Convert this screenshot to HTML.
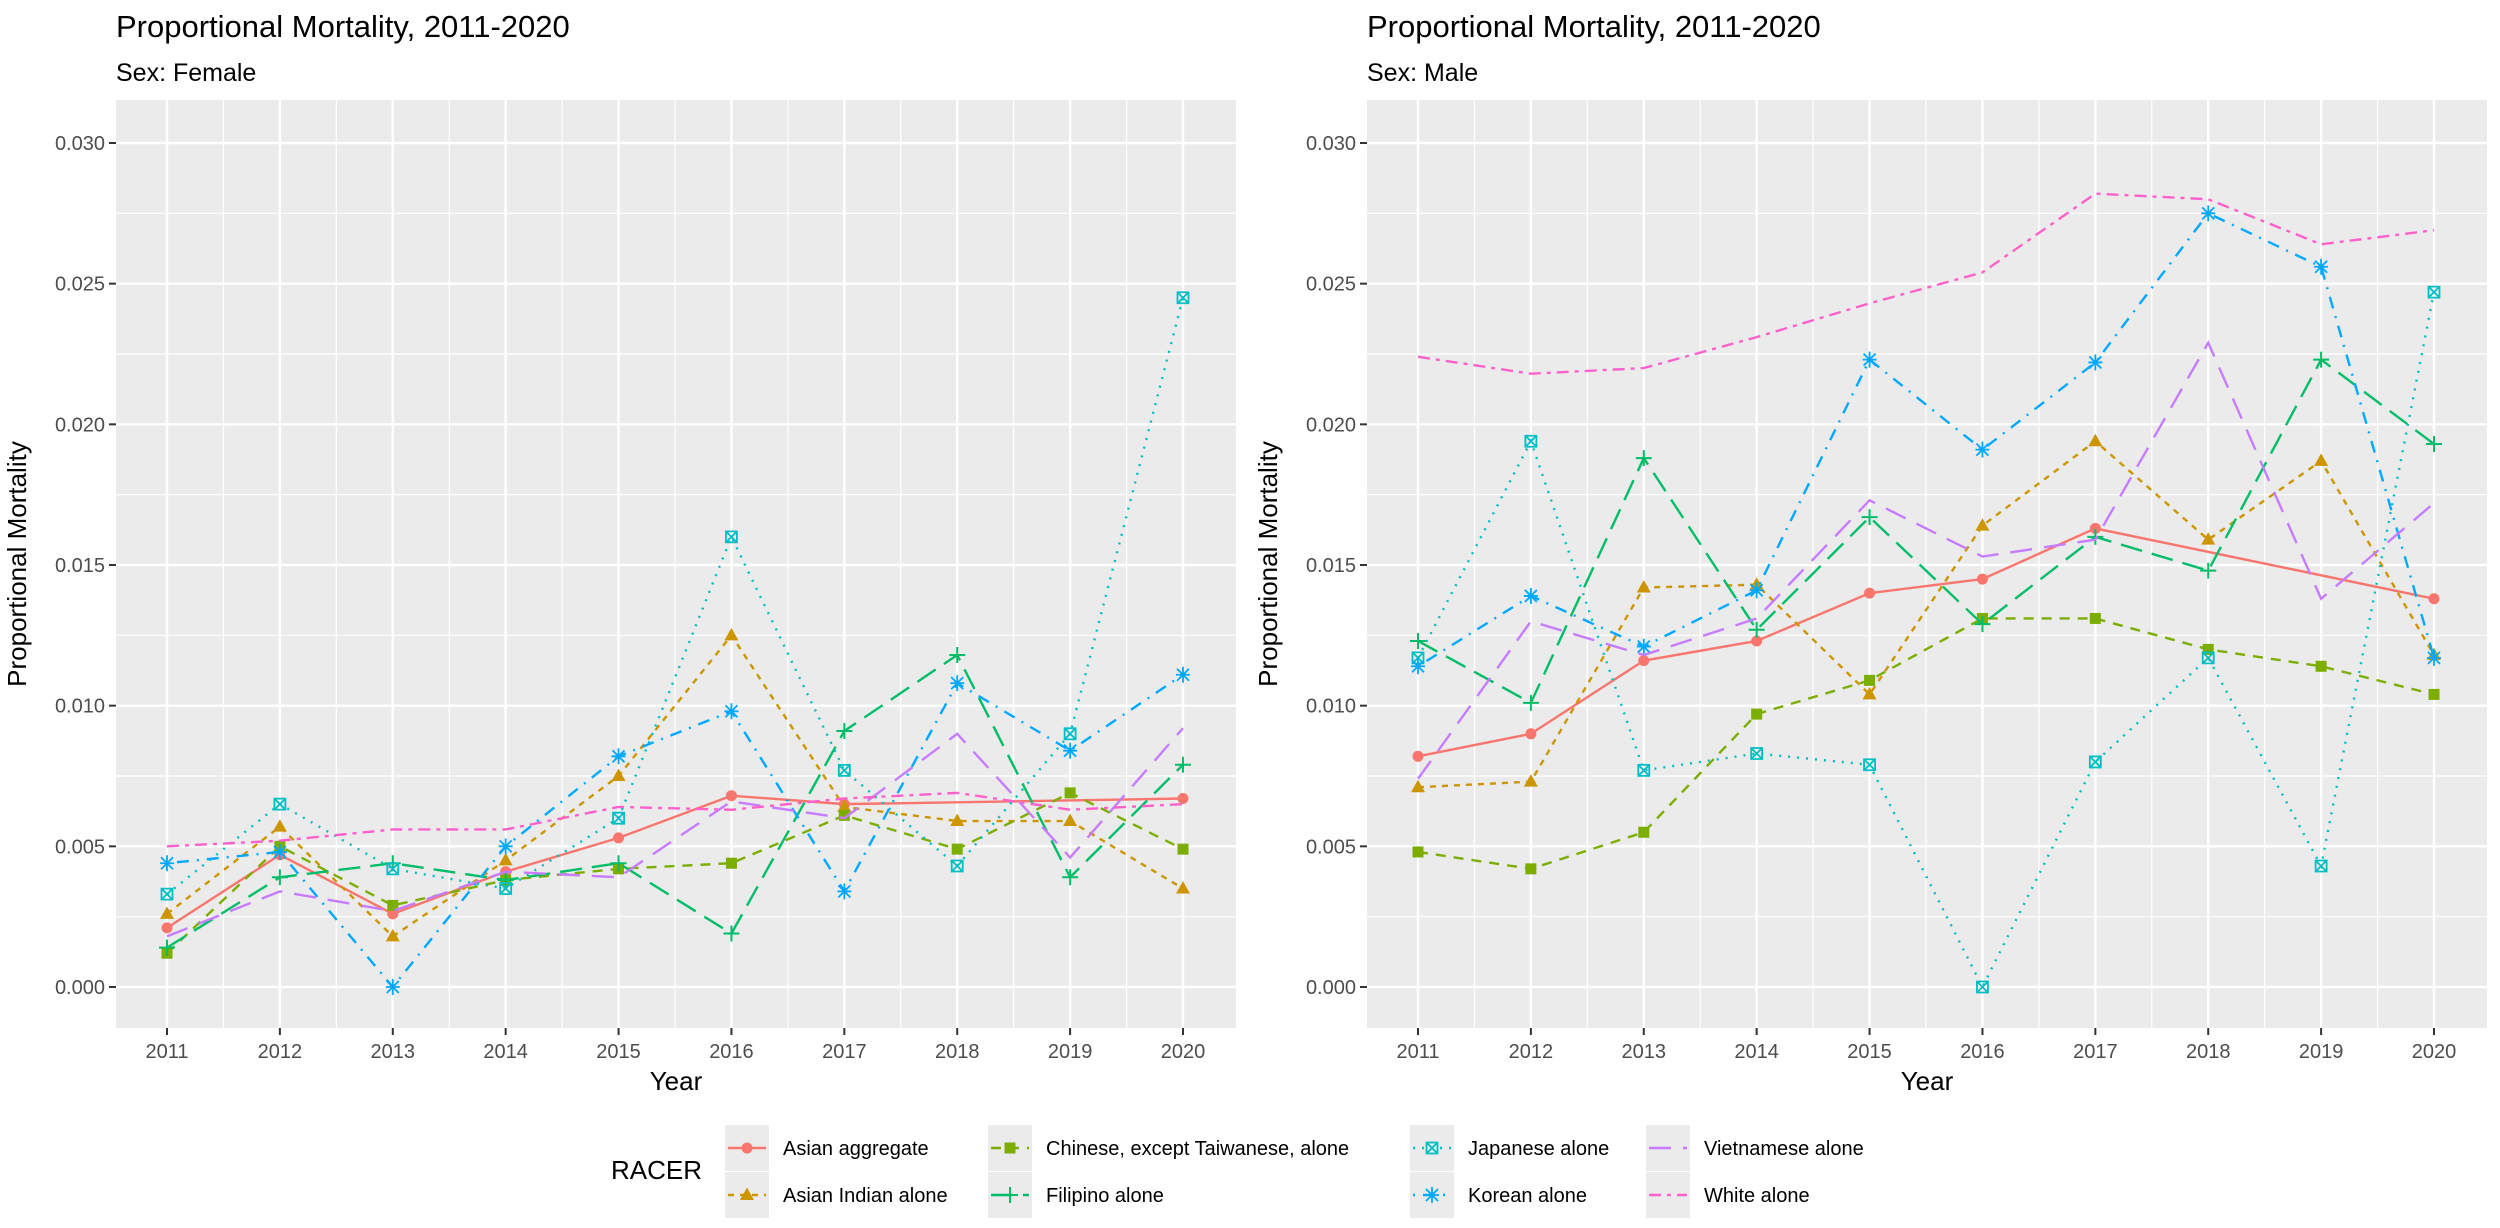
<!DOCTYPE html>
<html><head><meta charset="utf-8"><style>
html,body{margin:0;padding:0;background:#fff;}
svg{display:block;font-family:"Liberation Sans",Arial,sans-serif;}
</style></head><body>
<svg id="chart" width="2500" height="1228" viewBox="0 0 2500 1228" xmlns="http://www.w3.org/2000/svg"></svg>
<script>
const years = [2011,2012,2013,2014,2015,2016,2017,2018,2019,2020];
const yTicks = [0,0.005,0.010,0.015,0.020,0.025,0.030];
const yTickLabels = ["0.000","0.005","0.010","0.015","0.020","0.025","0.030"];
const seriesNames = ["Asian aggregate","Asian Indian alone","Chinese, except Taiwanese, alone","Filipino alone","Japanese alone","Korean alone","Vietnamese alone","White alone"];
const femaleAggregate = [0.0021,0.0047,0.0026,0.0041,0.0053,0.0068,0.0065,null,null,0.0067];
const femaleIndian = [0.0026,0.0057,0.0018,0.0045,0.0075,0.0125,0.0064,0.0059,0.0059,0.0035];
const femaleChinese = [0.0012,0.0050,0.0029,0.0038,0.0042,0.0044,0.0061,0.0049,0.0069,0.0049];
const femaleFilipino = [0.0014,0.0039,0.0044,0.0038,0.0044,0.0019,0.0091,0.0118,0.0039,0.0079];
const femaleJapanese = [0.0033,0.0065,0.0042,0.0035,0.0060,0.0160,0.0077,0.0043,0.0090,0.0245];
const femaleKorean = [0.0044,0.0048,0.0000,0.0050,0.0082,0.0098,0.0034,0.0108,0.0084,0.0111];
const femaleVietnamese = [0.0018,0.0034,0.0027,0.0041,0.0039,0.0066,0.0060,0.0090,0.0046,0.0092];
const femaleWhite = [0.0050,0.0052,0.0056,0.0056,0.0064,0.0063,0.0067,0.0069,0.0063,0.0065];
const maleAggregate = [0.0082,0.0090,0.0116,0.0123,0.0140,0.0145,0.0163,null,null,0.0138];
const maleIndian = [0.0071,0.0073,0.0142,0.0143,0.0104,0.0164,0.0194,0.0159,0.0187,0.0118];
const maleChinese = [0.0048,0.0042,0.0055,0.0097,0.0109,0.0131,0.0131,0.0120,0.0114,0.0104];
const maleFilipino = [0.0123,0.0101,0.0188,0.0127,0.0167,0.0129,0.0160,0.0148,0.0223,0.0193];
const maleJapanese = [0.0117,0.0194,0.0077,0.0083,0.0079,0.0000,0.0080,0.0117,0.0043,0.0247];
const maleKorean = [0.0114,0.0139,0.0121,0.0141,0.0223,0.0191,0.0222,0.0275,0.0256,0.0117];
const maleVietnamese = [0.0074,0.0130,0.0118,0.0131,0.0173,0.0153,0.0159,0.0229,0.0138,0.0172];
const maleWhite = [0.0224,0.0218,0.0220,0.0231,0.0243,0.0254,0.0282,0.0280,0.0264,0.0269];

const colors = ["#F8766D","#CD9600","#7CAE00","#00BE67","#00BFC4","#00A9FF","#C77CFF","#FF61CC"];
const dashes = ["", "6,6", "10,8", "22,10", "2,7", "2,8,12,8", "22,12", "12,6,4,6"];
const shapes = ["circle","triangle","square","plus","boxx","asterisk",null,null];
const slugs = ["asian-aggregate","asian-indian","chinese","filipino","japanese","korean","vietnamese","white"];

const NS = "http://www.w3.org/2000/svg";
const svg = document.getElementById('chart');
function mk(tag, attrs, parent){const e=document.createElementNS(NS,tag);for(const k in attrs)e.setAttribute(k,attrs[k]);(parent||svg).appendChild(e);return e;}

function marker(g, shape, x, y, c){
  let e;
  if(shape==="circle"){e=mk('circle',{cx:x,cy:y,r:5.5,fill:c},g);}
  else if(shape==="triangle"){e=mk('polygon',{points:`${x},${y-7.5} ${x+7},${y+5} ${x-7},${y+5}`,fill:c},g);}
  else if(shape==="square"){e=mk('rect',{x:x-5.5,y:y-5.5,width:11,height:11,fill:c},g);}
  else if(shape==="plus"){e=mk('path',{d:`M${x-8},${y}H${x+8}M${x},${y-8}V${y+8}`,stroke:c,'stroke-width':2,fill:'none'},g);}
  else if(shape==="boxx"){e=mk('path',{d:`M${x-5.5},${y-5.5}h11v11h-11zM${x-5.5},${y-5.5}L${x+5.5},${y+5.5}M${x+5.5},${y-5.5}L${x-5.5},${y+5.5}`,stroke:c,'stroke-width':1.8,fill:'none'},g);}
  else if(shape==="asterisk"){e=mk('path',{d:`M${x-7},${y}H${x+7}M${x},${y-8}V${y+8}M${x-6},${y-6}L${x+6},${y+6}M${x+6},${y-6}L${x-6},${y+6}`,stroke:c,'stroke-width':1.8,fill:'none'},g);}
  return e;
}

function panel(px0, subtitle, data, slug){
  const left=px0, right=px0+1120, top=100, bottom=1028;
  const x0=left+51, x1=right-53;
  const xS=v=>x0+(v-2011)*(x1-x0)/9;
  const yS=v=>987-v*(987-143)/0.030;
  const g=mk('g',{});
  
  
  const t=mk('text',{x:left,y:37,'font-size':31,fill:'#000'},g); t.textContent="Proportional Mortality, 2011-2020";
   
  const st=mk('text',{x:left,y:81,'font-size':25,fill:'#000'},g); st.textContent=subtitle;
   
  const bg=mk('rect',{x:left,y:top,width:right-left,height:bottom-top,fill:'#EBEBEB'},g);
   
  for(let i=0;i<yTicks.length;i++){const v=yTicks[i]+0.0025;const y=yS(v); if(y>top) mk('line',{x1:left,x2:right,y1:y,y2:y,stroke:'#fff','stroke-width':1.2},g);}
  mk('line',{x1:left,x2:right,y1:yS(-0.0025),y2:yS(-0.0025),stroke:'#fff','stroke-width':1.2},g);
  for(let i=0;i<years.length-1;i++){const x=xS(years[i]+0.5);mk('line',{x1:x,x2:x,y1:top,y2:bottom,stroke:'#fff','stroke-width':1.2},g);}
  yTicks.forEach((v,i)=>{const y=yS(v);
    mk('line',{x1:left,x2:right,y1:y,y2:y,stroke:'#fff','stroke-width':2.4},g);
    mk('line',{x1:left-7,x2:left,y1:y,y2:y,stroke:'#333','stroke-width':2},g);
    const tl=mk('text',{x:left-11,y:y+7,'font-size':20,fill:'#4D4D4D','text-anchor':'end'},g); tl.textContent=yTickLabels[i];
     
  });
  years.forEach(v=>{const x=xS(v);
    mk('line',{x1:x,x2:x,y1:top,y2:bottom,stroke:'#fff','stroke-width':2.4},g);
    mk('line',{x1:x,x2:x,y1:bottom,y2:bottom+7,stroke:'#333','stroke-width':2},g);
    const tl=mk('text',{x:x,y:bottom+30,'font-size':20,fill:'#4D4D4D','text-anchor':'middle'},g); tl.textContent=v;
     
  });
  const xt=mk('text',{x:(left+right)/2,y:1090,'font-size':26,fill:'#000','text-anchor':'middle'},g); xt.textContent="Year";
   
  const yx=left-90, yy=(top+bottom)/2;
  const yt=mk('text',{x:yx,y:yy,'font-size':26,fill:'#000','text-anchor':'middle',transform:`rotate(-90 ${yx} ${yy})`},g); yt.textContent="Proportional Mortality";
   
  data.forEach((arr,si)=>{
    const sg=mk('g',{},g);
    
    
    const pts=[]; arr.forEach((v,i)=>{if(v!==null)pts.push([xS(years[i]),yS(v)]);});
    const ln=mk('polyline',{points:pts.map(p=>p.join(',')).join(' '),fill:'none',stroke:colors[si],'stroke-width':2.4,'stroke-dasharray':dashes[si]},sg);
     
    if(shapes[si]) pts.forEach(p=>{const m=marker(sg,shapes[si],p[0],p[1],colors[si]);
       });
  });
}
panel(116,"Sex: Female",[femaleAggregate,femaleIndian,femaleChinese,femaleFilipino,femaleJapanese,femaleKorean,femaleVietnamese,femaleWhite],"female");
panel(1367,"Sex: Male",[maleAggregate,maleIndian,maleChinese,maleFilipino,maleJapanese,maleKorean,maleVietnamese,maleWhite],"male");

const lg=mk('g',{});
 
const lt=mk('text',{x:611,y:1179,'font-size':26,fill:'#000'},lg); lt.textContent="RACER";
 
const colKeyX=[725,988,1410,1646];
const rowY=[1148,1195];
seriesNames.forEach((nm,si)=>{
  const col=Math.floor(si/2), row=si%2;
  const kx=colKeyX[col], cy=rowY[row];
  const eg=mk('g',{},lg);
  
  
  mk('rect',{x:kx,y:cy-23,width:44,height:46,fill:'#EBEBEB'},eg);
  mk('line',{x1:kx+3,x2:kx+41,y1:cy,y2:cy,stroke:colors[si],'stroke-width':2.4,'stroke-dasharray':dashes[si]},eg);
  if(shapes[si]) marker(eg,shapes[si],kx+22,cy,colors[si]);
  const tx=mk('text',{x:kx+58,y:cy+7,'font-size':20,fill:'#000'},eg); tx.textContent=nm;
});
</script>
</body></html>
